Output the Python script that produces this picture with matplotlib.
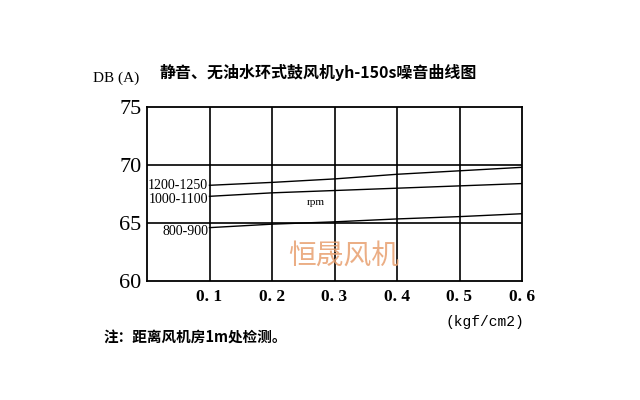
import matplotlib
matplotlib.use("Agg")
import matplotlib.pyplot as plt

# Data
pressure = [0.1, 0.2, 0.3, 0.4, 0.5, 0.6]
rpm_labels = ["1200-1250", "1000-1100", "800-900"]
noise_1200 = [68.25, 68.5, 68.8, 69.2, 69.5, 69.8]
noise_1000 = [67.3, 67.6, 67.8, 68.0, 68.2, 68.4]
noise_800 = [64.6, 64.9, 65.1, 65.35, 65.55, 65.8]
x_ticks = [0.1, 0.2, 0.3, 0.4, 0.5, 0.6]
x_ticklabels = ["0. 1", "0. 2", "0. 3", "0. 4", "0. 5", "0. 6"]
y_ticks = [60, 65, 70, 75]

title = "静音、无油水环式鼓风机yh-150s噪音曲线图"
note = "注：距离风机房1m处检测。"

cjk = ["Noto Sans CJK SC", "DejaVu Sans"]
serif = ["Liberation Serif", "DejaVu Serif"]
mono = ["Liberation Mono", "DejaVu Sans Mono"]

fig = plt.figure(figsize=(6.4, 4.0), dpi=100)
ax = fig.add_axes([147/640, 1-281/400, 375/640, 174/400])
ax.set_xlim(0, 0.6)
ax.set_ylim(60, 75)

for x in x_ticks[:-1]:
    ax.axvline(x, color="black", lw=1.2)
for y in y_ticks[1:-1]:
    ax.axhline(y, color="black", lw=1.2)

for s in [noise_1200, noise_1000, noise_800]:
    ax.plot(pressure, s, color="black", lw=1.0)

for sp in ax.spines.values():
    sp.set_linewidth(1.3)
    sp.set_color("black")

ax.set_xticks(x_ticks)
ax.set_xticklabels(x_ticklabels, family=serif, fontsize=12.5, fontweight="bold")
ax.set_yticks(y_ticks)
ax.set_yticklabels([str(v) for v in y_ticks], family=serif, fontsize=16)
ax.tick_params(length=0, pad=4)
ax.tick_params(axis="x", pad=6)

# series labels
ax.text(0.098, noise_1200[0], rpm_labels[0], ha="right", va="center",
        family=serif, fontsize=10)
ax.text(0.098, noise_1000[0] - 0.25, rpm_labels[1], ha="right", va="center",
        family=serif, fontsize=10)
ax.text(0.098, noise_800[0] - 0.3, rpm_labels[2], ha="right", va="center",
        family=serif, fontsize=10)
ax.text(0.255, 66.8, "rpm", ha="left", va="center", family=serif, fontsize=8)

# watermark
ax.text(0.315, 62.2, "恒晟风机", ha="center", va="center", family=cjk,
        fontsize=20, color="#e8a070", alpha=0.85)

fig.text(318/640, 1-72/400, title, ha="center", va="center", family=cjk,
         fontsize=11.5, fontweight="bold")
fig.text(93/640, 1-78/400, "DB (A)", ha="left", va="center", family=serif,
         fontsize=11)
fig.text(446/640, 1-322/400, "(kgf/cm2)", ha="left", va="center",
         family=mono, fontsize=10.5)
fig.text(103/640, 1-338/400, note, ha="left", va="center", family=cjk,
         fontsize=10.5, fontweight="bold")

fig.savefig("out.png", dpi=100, facecolor="white")
